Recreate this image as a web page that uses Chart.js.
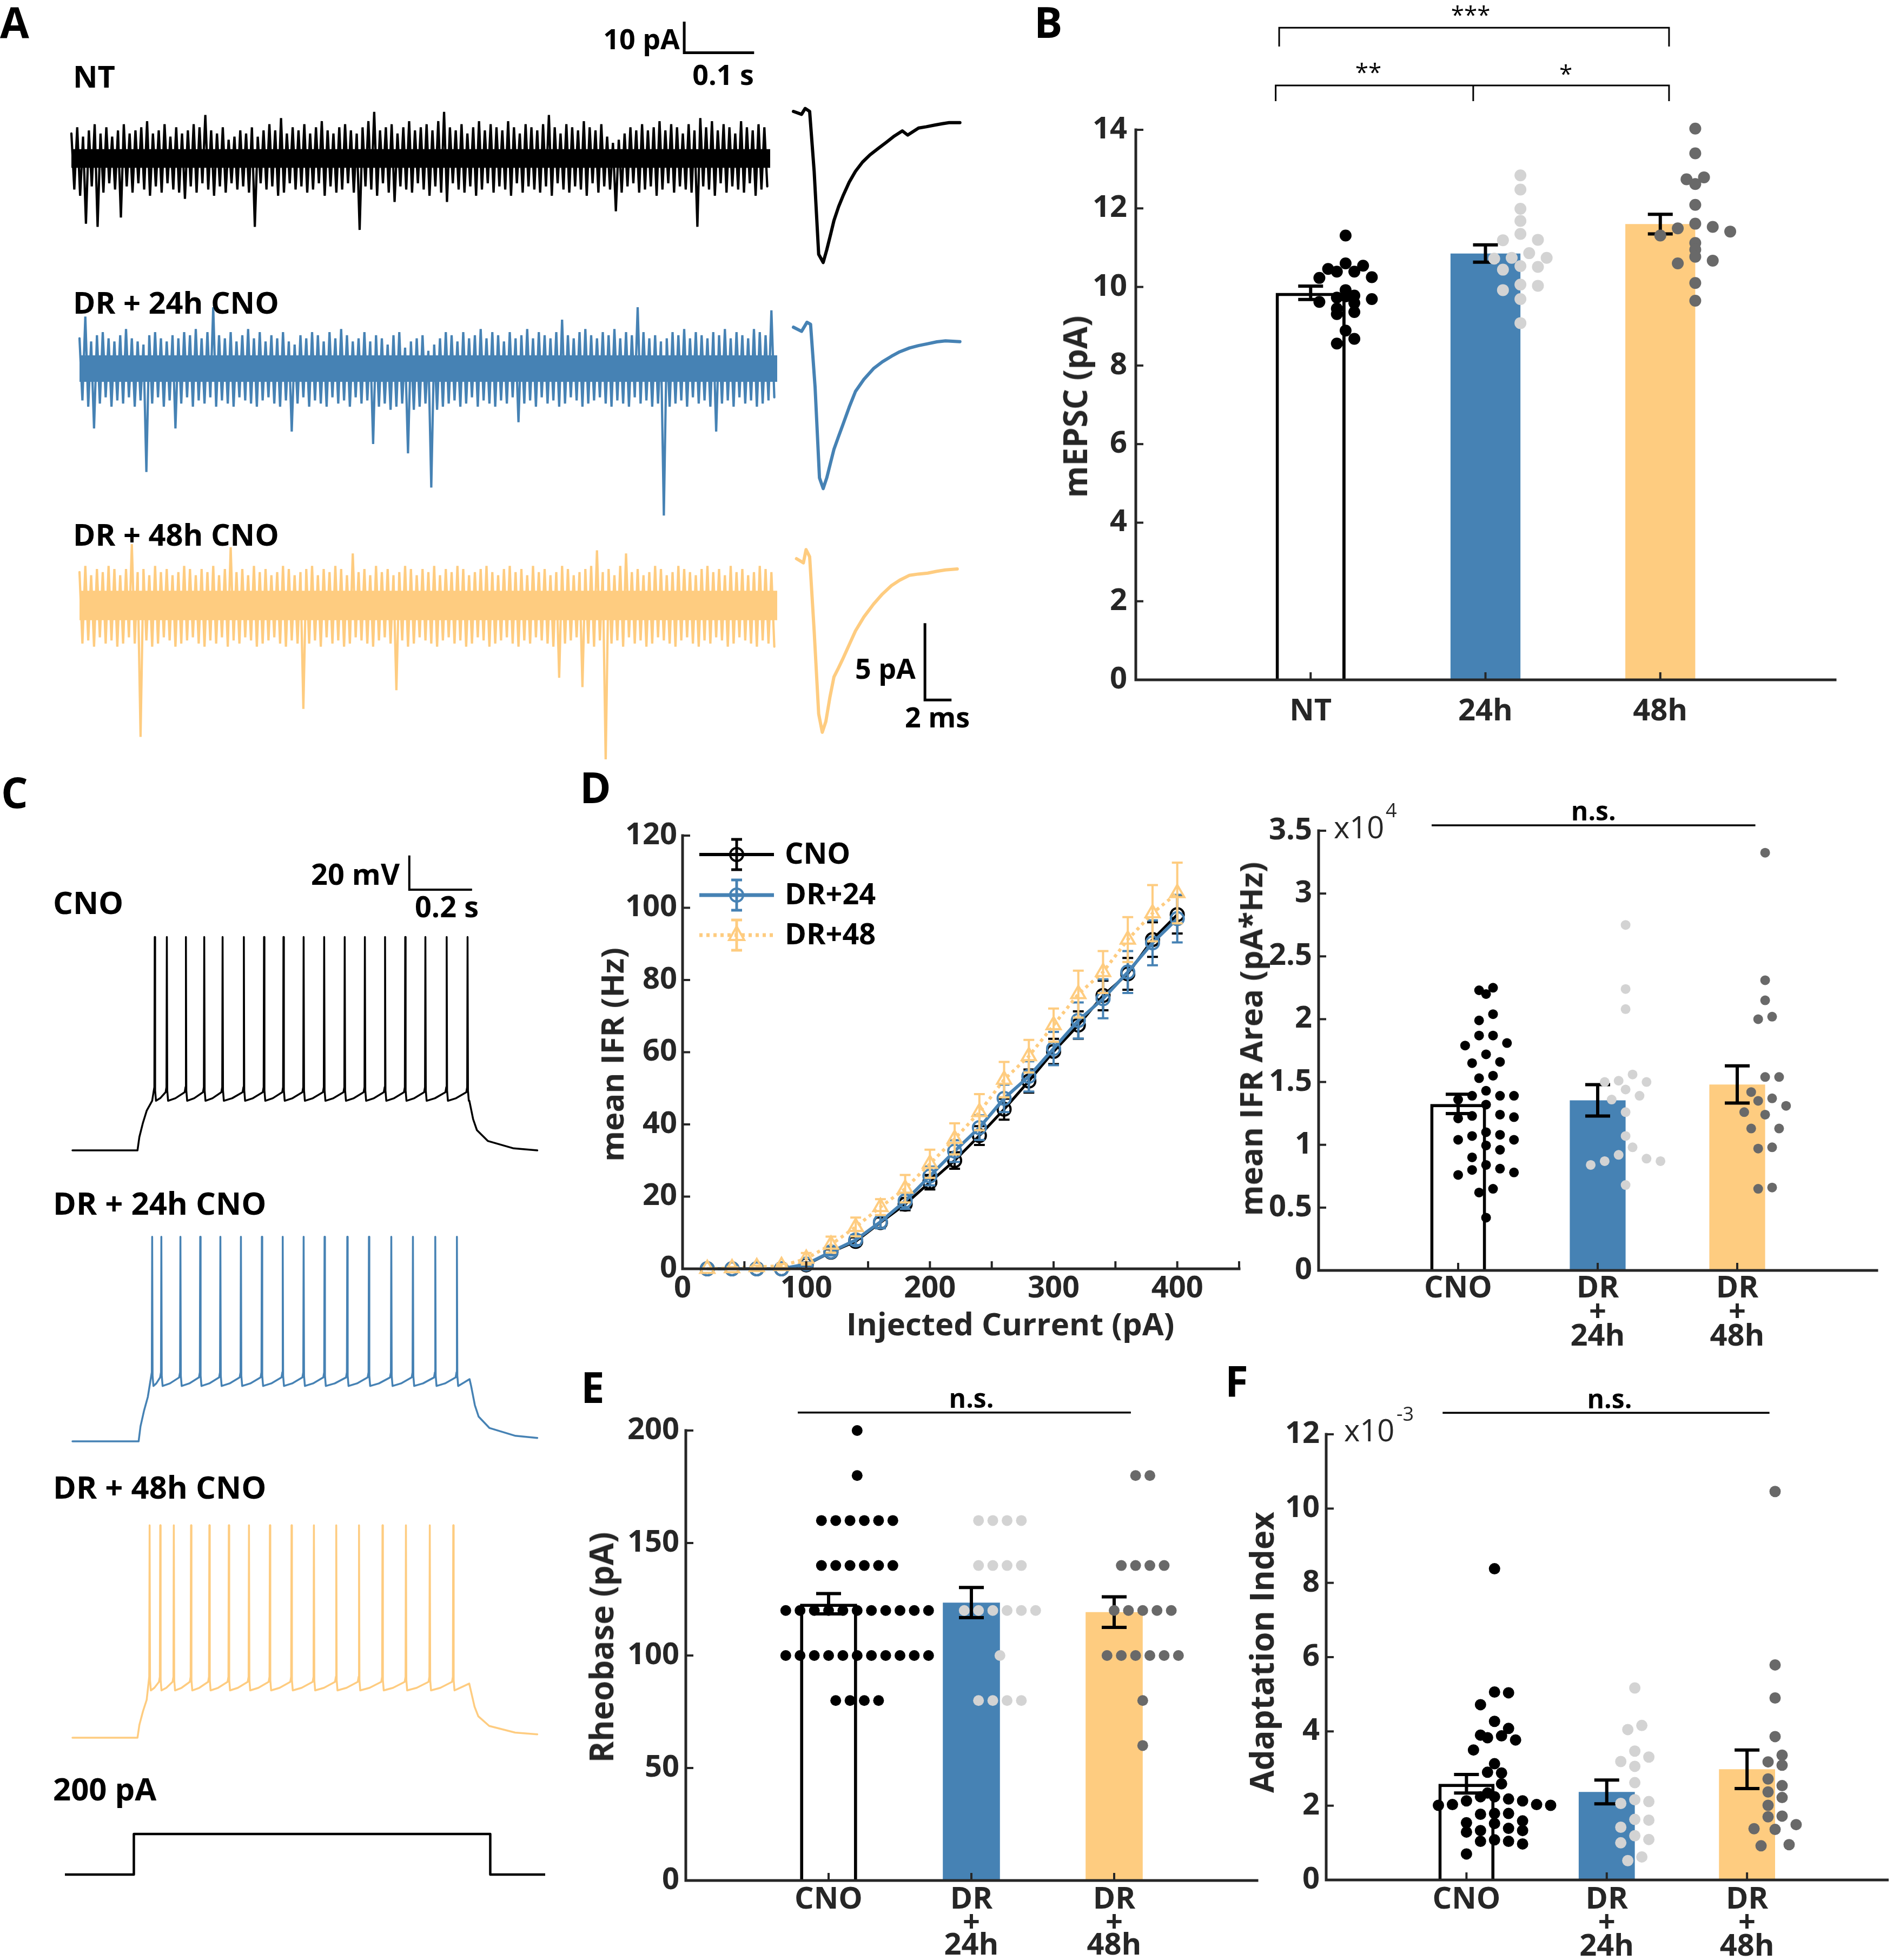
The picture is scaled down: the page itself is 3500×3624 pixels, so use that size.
<!DOCTYPE html>
<html>
<head>
<meta charset="utf-8">
<script src="https://cdn.jsdelivr.net/npm/chart.js@4.4.1/dist/chart.umd.min.js"></script>
<style>
  html, body { margin: 0; padding: 0; background: #fff; }
  #page { position: relative; width: 3500px; height: 3624px; overflow: hidden; background: #fff; }
  canvas { position: absolute; }
</style>
</head>
<body>
<div id="page"></div>
<script>
// ---- colours / fonts
const BLACK = '#000000', BLUE = '#4682B4', ORANGE = '#FECC80', LIGHT = '#D3D3D3', DARK = '#696969', AXIS = '#262626';
const FONT = "'Open Sans', sans-serif";

// ---- A: mEPSC traces (pA). dense core of the noise band, plus the envelope of the hairs, 120 bins over ~1 s
const ntCore = [-3, 3];
const dr24Core = [-4, 4.5];
const dr48Core = [-4.5, 5];
const ntTop = [8,10,7,9,11,8,10,7,9,11, 8,9,10,12,8,9,11,7,10,8, 9,11,10,14,9,8,10,6,7,9, 8,10,7,9,11,9,13,8,10,9,
  11,8,10,12,9,8,10,11,9,8, 10,12,15,9,10,11,8,10,12,9, 10,11,9,12,15,10,9,11,8,10, 12,9,11,10,9,12,10,8,11,10,
  9,11,14,10,8,11,10,9,12,10, 9,11,7,5,6,8,10,9,11,9, 10,12,9,11,10,8,11,9,13,10, 12,9,11,10,8,12,10,9,11,10];
const ntBot = [-10,-12,-21,-9,-22,-11,-8,-10,-19,-9, -11,-8,-10,-12,-9,-11,-8,-10,-11,-13, -9,-11,-8,-10,-12,-9,-11,-8,-10,-9,
  -11,-22,-8,-10,-9,-12,-11,-8,-10,-9, -11,-10,-8,-12,-9,-11,-10,-8,-11,-23, -9,-10,-12,-8,-11,-14,-9,-10,-11,-8,
  -10,-12,-9,-11,-14,-8,-10,-11,-9,-12, -10,-8,-11,-9,-10,-12,-8,-11,-9,-10, -11,-9,-12,-8,-10,-11,-9,-10,-12,-8,
  -11,-9,-10,-17,-11,-9,-8,-11,-10,-9, -12,-10,-8,-11,-9,-10,-11,-22,-9,-10, -12,-8,-11,-9,-10,-11,-8,-12,-10,-9];
const dr24Top = [10,17,9,11,12,10,9,11,13,10, 9,8,11,12,10,9,11,10,12,11, 13,10,12,20,11,10,12,9,11,13, 10,12,9,11,10,12,9,8,11,10,
  12,11,9,12,10,13,11,9,10,12, 9,11,10,8,11,12,7,9,10,11, 6,8,10,12,11,9,12,10,11,13, 10,12,11,9,12,10,11,13,10,12,
  11,10,12,16,11,10,12,13,11,10, 12,11,13,10,12,11,20,12,10,11, 9,10,12,11,13,10,12,11,10,12, 11,13,10,12,11,10,13,12,11,19];
const dr24Bot = [-10,-12,-19,-11,-9,-12,-10,-11,-9,-12, -10,-33,-11,-9,-12,-10,-19,-11,-9,-12, -10,-11,-9,-12,-10,-11,-12,-9,-10,-11,
  -12,-10,-9,-11,-12,-10,-20,-11,-9,-12, -10,-11,-12,-9,-11,-10,-12,-9,-11,-10, -24,-12,-11,-13,-12,-11,-27,-13,-12,-11,
  -38,-13,-12,-11,-10,-12,-11,-9,-12,-10, -11,-12,-10,-11,-9,-17,-11,-10,-12,-9, -11,-10,-12,-11,-9,-10,-12,-11,-10,-9,
  -11,-12,-10,-11,-12,-9,-11,-10,-12,-11, -47,-12,-11,-10,-12,-9,-11,-10,-12,-20, -11,-10,-12,-9,-11,-10,-12,-11,-10,-9];
const dr48Top = [11,13,10,12,11,13,12,10,12,20, 11,12,10,13,11,12,10,11,13,12, 10,12,11,13,10,12,19,11,12,10, 13,11,12,10,11,13,12,10,11,12,
  13,10,12,11,13,12,10,17,11,12, 10,13,11,12,10,11,13,12,10,12, 11,13,10,12,11,13,12,10,11,12, 13,11,10,12,13,11,12,10,13,11,
  12,10,11,13,12,10,11,12,13,18, 11,12,10,13,17,11,12,10,11,13, 12,10,11,13,12,11,10,12,13,11, 12,10,13,11,12,10,11,13,12,11];
const dr48Bot = [-12,-11,-13,-10,-12,-11,-13,-12,-10,-12, -42,-11,-13,-12,-10,-11,-13,-12,-11,-10, -12,-13,-11,-12,-10,-13,-11,-12,-10,-11,
  -13,-12,-11,-10,-12,-13,-11,-12,-33,-12, -11,-13,-10,-12,-11,-13,-12,-10,-11,-12, -13,-11,-10,-12,-27,-11,-13,-12,-10,-11,
  -12,-13,-11,-10,-12,-11,-13,-12,-10,-11, -13,-12,-11,-10,-12,-13,-11,-12,-10,-11, -12,-13,-23,-12,-11,-10,-26,-12,-13,-11,
  -50,-12,-11,-13,-10,-12,-11,-13,-12,-10, -11,-12,-13,-11,-10,-12,-13,-11,-12,-10, -11,-13,-12,-10,-11,-12,-13,-11,-12,-13];

// ---- A: averaged mEPSC (ms, pA)
const ntMiniT = [0,0.61,0.88,1.22,1.56,1.90,2.24,2.51,2.8,3.05,3.4,3.73,4.2,4.67,5.2,5.76,6.4,6.98,7.6,8.2,8.6,9.42,10.0,10.64,11.2,11.72,12.53];
const ntMiniV = [0,-0.19,0.19,0,-3.9,-9.3,-9.83,-9.0,-8.0,-7.1,-6.2,-5.5,-4.6,-3.9,-3.3,-2.83,-2.4,-2.02,-1.6,-1.27,-1.54,-1.08,-1.0,-0.89,-0.8,-0.73,-0.73];
const dr24MiniT = [0,0.61,1.02,1.29,1.63,1.96,2.24,2.51,2.8,3.05,3.4,3.73,4.2,4.67,5.3,6.03,6.7,7.38,8.0,8.74,9.4,10.1,10.8,11.45,12.53];
const dr24MiniV = [0,-0.27,0.32,0.19,-3.9,-9.8,-10.5,-9.8,-8.8,-7.95,-7.1,-6.33,-5.2,-4.18,-3.4,-2.69,-2.25,-1.89,-1.6,-1.35,-1.2,-1.08,-0.95,-0.89,-0.94];
const dr48MiniT = [0.23,0.75,0.95,1.22,1.56,1.90,2.17,2.44,2.75,3.05,3.4,3.73,4.2,4.67,5.3,6.03,6.7,7.38,8.0,8.74,9.4,10.1,10.8,11.45,12.33];
const dr48MiniV = [0,-0.27,0.59,0.13,-4.7,-10.1,-11.3,-10.6,-9.0,-7.7,-7.1,-6.5,-5.6,-4.7,-3.8,-2.96,-2.3,-1.75,-1.4,-1.08,-1.0,-0.94,-0.82,-0.73,-0.67];

// ---- B: mEPSC amplitude
const bCats = ['NT', '24h', '48h'];
const bMeans = [9.85, 10.85, 11.6];
const bSems = [0.17, 0.22, 0.25];
const bNtVals = [11.31,10.60,10.46,10.39,10.39,10.54,10.23,10.25,9.92,9.73,9.62,9.78,9.69,9.59,9.76,9.45,9.36,9.31,8.89,8.56,8.68];
const bNtJit = [0,0,-2,-1,1,2,-3,3,0,-1,-3,1,3,1,0,-1,1,-1,0,-1,1];
const b24Vals = [12.84,12.48,11.99,11.68,11.35,11.19,11.20,10.86,10.74,10.72,10.74,10.53,10.44,10.51,10.06,10.03,9.92,9.69,9.08];
const b24Jit = [0,0,0,0,0,-2,2,1,3,-3,-1,0,-2,2,0,2,-2,0,0];
const b48Vals = [14.03,13.40,12.74,12.79,12.62,12.09,11.61,11.49,11.53,11.41,11.31,11.12,10.95,10.77,10.60,10.67,10.10,9.65];
const b48Jit = [0,0,-1,1,0,0,0,-2,2,4,-4,0,0,0,-2,2,0,0];

// ---- C: firing (ms, mV above rest)
const cnoSpikes = [263.5,302.3,363.4,422.1,480.9,549,613.6,675.9,740.5,806.3,872.1,936.7,1001.3,1065.9,1130.5,1198.7,1265.6];
const dr24Spikes = [255.3,284.7,345.8,409.2,473.8,539.6,606.6,673.5,740.5,807.5,880.3,949.6,1021.3,1090.6,1162.2,1231.5];
const dr48Spikes = [247.1,281.1,324.6,379.8,438.5,500.8,565.4,632.4,701.7,773.4,845.0,917.9,993.1,1068.2,1144.6,1219.8];
const apPeak = [124.8, 119.7, 124.3];
const apTrough = [29, 32.4, 27.7];
const stepOn = [208.3, 211.9, 208.3];
const stepOff = [1271.4, 1277, 1276];
const restEnd = [0, 2, 2];
const chargeT = [0, 6, 17.6, 29.4, 47];
const chargeF = [0, 0.27, 0.56, 0.8, 1.0];
const decayT = [0, 12, 24, 59, 142];
const decayF = [1, 0.63, 0.41, 0.19, 0.04];
const currentT = [-30, 196.6, 196.6, 1338.3, 1338.3, 1565];
const currentV = [0, 0, 200, 200, 0, 0];

// ---- D: f-I curve
const dCurrents = [20,40,60,80,100,120,140,160,180,200,220,240,260,280,300,320,340,360,380,400];
const dCno = [0,0,0,0,1.1,4.6,7.6,12.8,17.9,24.0,30.0,36.9,44.2,52.0,60.2,67.5,75.7,81.7,91.2,98.1];
const dCnoErr = [0,0,0,0,0.4,0.8,1.1,1.4,1.7,2.0,2.3,2.6,2.9,3.2,3.5,3.8,4.1,4.4,4.8,5.2];
const d24 = [0,0,0,0,1.3,4.7,8.0,13.0,18.8,25.7,32.6,39.1,47.2,53.3,61.0,68.8,74.8,82.2,90.3,97.0];
const d24Err = [0,0,0,0,0.5,1.0,1.4,1.8,2.2,2.6,3.0,3.4,3.8,4.2,4.6,5.0,5.4,5.8,6.2,6.6];
const d48 = [0,0.2,0.5,0.8,2.8,6.7,11.6,17.1,22.2,29.1,36.0,43.4,52.4,58.9,67.5,76.1,82.2,91.2,98.5,104.1];
const d48Err = [0,0.3,0.4,0.5,1.6,2.2,2.6,2.2,3.8,3.9,4.3,5.0,4.9,4.5,4.6,6.5,5.8,6.2,7.8,8.4];

// ---- D right: IFR area (x10^4 pA*Hz)
const grpCats = ['CNO', ['DR', '+', '24h'], ['DR', '+', '48h']];
const drMeans = [1.325, 1.354, 1.48];
const drSems = [0.077, 0.125, 0.148];
const drCnoVals = [2.23,2.20,2.25,2.04,1.99,1.87,1.87,1.79,1.81,1.72,1.65,1.66,1.53,1.55,1.43,1.39,1.39,1.39,1.32,1.36,
  1.21,1.23,1.24,1.22,1.04,1.07,1.10,1.08,1.04,0.995,0.96,0.90,0.84,0.76,0.80,0.81,0.78,0.62,0.65,0.42];
const drCnoJit = [-1,0,1,1,-1,-1,1,-3,3,0,-2,2,-1,1,0,-2,2,4,0,-4,-4,-2,2,4,-4,-2,0,2,4,0,2,-2,0,-4,-2,2,4,-1,1,0];
const dr24Vals = [2.75,2.24,2.08,1.56,1.50,1.51,1.50,1.44,1.39,1.36,1.26,1.07,0.98,0.92,0.84,0.87,0.89,0.87,0.68];
const dr24Jit = [0,0,0,1,-3,-1,3,0,2,-2,0,0,1,-1,-5,-3,3,5,0];
const dr48Vals = [3.325,2.31,2.15,2.00,2.02,1.54,1.54,1.42,1.35,1.37,1.31,1.26,1.24,1.13,1.13,0.97,0.98,0.65,0.66];
const dr48Jit = [0,0,0,-1,1,0,2,-2,-1,1,3,-3,0,-2,2,-1,1,-1,1];

// ---- E: rheobase (pA)
const eMeans = [123, 123.5, 119.3];
const eSems = [4.5, 6.7, 6.8];
const eCnoVals = [200,180,160,160,160,160,160,160,140,140,140,140,140,140,
  120,120,120,120,120,120,120,120,120,120,120,100,100,100,100,100,100,100,100,100,100,100,80,80,80,80];
const eCnoJit = [0,0,-2.5,-1.5,-0.5,0.5,1.5,2.5,-2.5,-1.5,-0.5,0.5,1.5,2.5,
  -5,-4,-3,-2,-1,0,1,2,3,4,5,-5,-4,-3,-2,-1,0,1,2,3,4,5,-1.5,-0.5,0.5,1.5];
const e24Vals = [160,160,160,160,140,140,140,140,120,120,120,120,120,120,100,80,80,80,80];
const e24Jit = [-1.5,-0.5,0.5,1.5,-1.5,-0.5,0.5,1.5,-2.5,-1.5,-0.5,0.5,1.5,2.5,0,-1.5,-0.5,0.5,1.5];
const e48Vals = [180,180,140,140,140,140,120,120,120,120,120,100,100,100,100,100,100,80,60];
const e48Jit = [-0.5,0.5,-1.5,-0.5,0.5,1.5,-2,-1,0,1,2,-2.5,-1.5,-0.5,0.5,1.5,2.5,0,0];

// ---- F: adaptation index (x10^-3)
const fMeans = [2.59, 2.37, 2.98];
const fSems = [0.25, 0.32, 0.52];
const fCnoVals = [8.38,5.06,5.04,4.72,4.27,4.08,3.9,3.83,3.88,3.77,3.5,3.13,2.9,2.88,2.59,2.34,2.24,2.24,2.18,2.13,2.13,
  2.01,2.03,2.03,2.01,1.77,1.79,1.79,1.54,1.52,1.59,1.39,1.29,1.33,1.33,1.04,1.08,1.04,0.97,0.7];
const fCnoJit = [0,0,1,-1,0,1,-1,-0.5,0.5,1.5,-1.5,0,-0.5,0.5,0.5,-0.5,0,-1,1,2,-2,
  -4,-3,3,4,-1,0,1,-2,0,2,1,-2,-1,2,-1,0,1,2,-2];
const f24Vals = [5.17,4.16,4.05,3.47,3.31,3.19,3.06,2.62,2.16,2.06,2.11,1.63,1.61,1.42,1.19,1.09,1.0,0.52,0.62];
const f24Jit = [0,0.5,-0.5,0,1,-1,0,0,0,-1,1,0,1,-1,0,1,-1,-0.5,0.5];
const f48Vals = [10.46,5.79,4.9,3.86,3.36,3.18,3.09,2.72,2.54,2.37,2.22,2.01,1.7,1.72,1.38,1.36,1.49,0.92,0.95];
const f48Jit = [0,0,0,0,0.5,-0.5,0.5,-0.5,0.5,-0.5,0.5,-0.5,-0.5,0.5,-1.5,0,1.5,-1,1];

// ------------------------------------------------------------------
const page = document.getElementById('page');
Chart.defaults.font.family = FONT;
Chart.defaults.color = AXIS;

function addCanvas(l, t, w, h) {
  const c = document.createElement('canvas');
  c.width = w; c.height = h;
  c.style.left = l + 'px'; c.style.top = t + 'px';
  c.style.width = w + 'px'; c.style.height = h + 'px';
  page.appendChild(c);
  return c;
}

function txt(s, x, y, o) {
  const d = document.createElement('div');
  d.textContent = s;
  d.style.cssText = `position:absolute;white-space:nowrap;line-height:1;font-family:${FONT};` +
    `font-size:${o.size}px;font-weight:${o.weight || 700};color:${o.color || '#000'};left:${x}px;top:${y}px;`;
  let tr = 'translateY(-50%)';
  if (o.rot) tr = 'translate(-50%,-50%) rotate(-90deg)';
  else if (o.align === 'center') tr = 'translate(-50%,-50%)';
  else if (o.align === 'right') tr = 'translate(-100%,-50%)';
  d.style.transform = tr;
  page.appendChild(d);
}

const baseOpts = () => ({
  responsive: false, animation: false, devicePixelRatio: 1, events: [],
  plugins: { legend: { display: false }, tooltip: { enabled: false } }
});

// inward ticks + L-shaped axes, MATLAB style
const axesPlugin = {
  id: 'axesPlugin',
  afterDraw(chart) {
    const { ctx, chartArea: a } = chart;
    const sx = chart.scales.x, sy = chart.scales.y;
    ctx.save();
    ctx.strokeStyle = AXIS; ctx.lineWidth = 5; ctx.lineCap = 'square';
    ctx.beginPath(); ctx.moveTo(a.left, a.top); ctx.lineTo(a.left, a.bottom); ctx.lineTo(a.right, a.bottom); ctx.stroke();
    ctx.lineCap = 'butt'; ctx.lineWidth = 4;
    sy.ticks.forEach(t => { const p = sy.getPixelForValue(t.value); ctx.beginPath(); ctx.moveTo(a.left, p); ctx.lineTo(a.left + 14, p); ctx.stroke(); });
    sx.ticks.forEach(t => { const p = sx.getPixelForValue(t.value); ctx.beginPath(); ctx.moveTo(p, a.bottom); ctx.lineTo(p, a.bottom - 14); ctx.stroke(); });
    ctx.restore();
  }
};

// error bars from dataset.errors, drawn right after their dataset
const errPlugin = {
  id: 'errPlugin',
  afterDatasetDraw(chart, args) {
    const ds = chart.data.datasets[args.index];
    if (!ds.errors) return;
    const { ctx } = chart; const sx = chart.scales.x, sy = chart.scales.y;
    ctx.save();
    ctx.strokeStyle = ds.errColor; ctx.lineWidth = ds.errWidth; ctx.lineCap = 'butt';
    ds.data.forEach((pt, i) => {
      const e = ds.errors[i];
      if (!e) return;
      const px = sx.getPixelForValue(pt.x), p1 = sy.getPixelForValue(pt.y + e), p2 = sy.getPixelForValue(pt.y - e);
      const c = ds.capHalf;
      ctx.beginPath();
      ctx.moveTo(px, p1); ctx.lineTo(px, p2);
      ctx.moveTo(px - c, p1); ctx.lineTo(px + c, p1);
      ctx.moveTo(px - c, p2); ctx.lineTo(px + c, p2);
      ctx.stroke();
    });
    ctx.restore();
  }
};

// brackets, n.s. lines, scale bars (data units)
function notes(id, lines, texts) {
  return {
    id,
    afterDraw(chart) {
      const { ctx } = chart; const sx = chart.scales.x, sy = chart.scales.y;
      ctx.save();
      lines.forEach(l => {
        ctx.strokeStyle = l.color || '#000'; ctx.lineWidth = l.w; ctx.lineCap = 'butt'; ctx.lineJoin = 'miter';
        ctx.beginPath();
        l.pts.forEach((p, i) => {
          const X = sx.getPixelForValue(p[0]), Y = sy.getPixelForValue(p[1]);
          if (i) ctx.lineTo(X, Y); else ctx.moveTo(X, Y);
        });
        ctx.stroke();
      });
      texts.forEach(t => {
        ctx.fillStyle = '#000'; ctx.font = `${t.weight || 400} ${t.size}px ${FONT}`;
        ctx.textAlign = 'center'; ctx.textBaseline = 'middle';
        ctx.fillText(t.s, sx.getPixelForValue(t.x), sy.getPixelForValue(t.y));
      });
      ctx.restore();
    }
  };
}

function tickFont(lh) { return { size: 56, weight: '700', lineHeight: lh }; }
const plainNum = v => String(+Number(v).toFixed(3));

function barPanel(p) {
  const b = p.box, a = p.area;
  const c = addCanvas(b.l, b.t, b.w, b.h);
  const ds = [{
    type: 'bar', order: 2,
    data: p.means.map((m, i) => ({ x: i + 1, y: m })),
    errors: p.sems, errColor: BLACK, errWidth: 6, capHalf: 23,
    backgroundColor: ['#ffffff', BLUE, ORANGE],
    borderColor: [BLACK, BLUE, ORANGE],
    borderWidth: [6, 0, 0],
    barPercentage: 0.4, categoryPercentage: 1
  }];
  const ptColors = [BLACK, LIGHT, DARK];
  p.groups.forEach((g, gi) => {
    ds.push({
      type: 'scatter', order: 1, clip: false,
      pointRadius: p.r, pointHoverRadius: p.r, pointBorderWidth: 0,
      pointBackgroundColor: ptColors[gi], pointBorderColor: ptColors[gi],
      data: g.vals.map((v, k) => ({ x: gi + 1.2 + g.jit[k] * p.step, y: v }))
    });
  });
  const opts = baseOpts();
  opts.layout = { padding: { left: 0, top: a.t - b.t, right: b.l + b.w - a.r, bottom: 0 } };
  opts.scales = {
    x: {
      type: 'linear', min: 0, max: 4, offset: false,
      grid: { display: false, drawTicks: false }, border: { display: false },
      afterBuildTicks: s => { s.ticks = [1, 2, 3].map(v => ({ value: v })); },
      afterFit: s => { s.height = b.t + b.h - a.b; },
      ticks: { autoSkip: false, maxRotation: 0, padding: p.xPad, color: AXIS, font: tickFont(p.lh),
        callback: v => p.cats[v - 1] }
    },
    y: {
      min: p.yMin, max: p.yMax,
      grid: { display: false, drawTicks: false }, border: { display: false },
      afterFit: s => { s.width = a.l - b.l; },
      ticks: { stepSize: p.yStep, padding: p.yPad, color: AXIS, font: tickFont(1.2), callback: plainNum }
    }
  };
  return new Chart(c, {
    type: 'bar', data: { datasets: ds }, options: opts,
    plugins: [errPlugin, axesPlugin, notes(p.id, p.lines, p.texts)]
  });
}

function traceChart(area, xr, yr, datasets, extra) {
  const m = 14;
  const c = addCanvas(area.l - m, area.t - m, area.r - area.l + 2 * m, area.b - area.t + 2 * m);
  const opts = baseOpts();
  opts.layout = { padding: m };
  opts.scales = {
    x: { type: 'linear', display: false, min: xr[0], max: xr[1] },
    y: { type: 'linear', display: false, min: yr[0], max: yr[1] }
  };
  return new Chart(c, { type: 'line', data: { datasets }, options: opts, plugins: extra || [] });
}

function lineDs(pts, color, w, join) {
  return { data: pts, borderColor: color, borderWidth: w, pointRadius: 0, tension: 0,
    clip: false, borderJoinStyle: join || 'round', borderCapStyle: 'round' };
}

// solid core of a noise band
function coreDs(core, color) {
  return { data: [{ x: 0, y: core[1] }, { x: 1, y: core[1] }], borderWidth: 0, pointRadius: 0,
    backgroundColor: color, fill: { value: core[0] }, clip: false };
}

function noisePts(top, bot) {
  const n = top.length, out = [];
  for (let i = 0; i < n; i++) {
    out.push({ x: i / n, y: top[i] });
    out.push({ x: (i + 0.5) / n, y: bot[i] });
  }
  return out;
}
const zipPts = (xs, ys) => xs.map((x, i) => ({ x, y: ys[i] }));

function apTrace(k, spikes) {
  const on = stepOn[k], off = stepOff[k], pk = apPeak[k], tr = apTrough[k], end = restEnd[k];
  const pts = [{ x: 0, y: 0 }];
  chargeT.forEach((dt, i) => { if (on + dt < spikes[0] - 3) pts.push({ x: on + dt, y: tr * chargeF[i] }); });
  spikes.forEach((ts, i) => {
    const nx = spikes[i + 1];
    pts.push({ x: ts - 1.2, y: tr + 8 });
    pts.push({ x: ts, y: pk });
    pts.push({ x: ts + 1.3, y: tr + 6 });
    pts.push({ x: ts + 4, y: tr });
    if (nx !== undefined) {
      pts.push({ x: ts + 0.45 * (nx - ts), y: tr + 1.5 });
      pts.push({ x: nx - 4, y: tr + 5 });
    } else if (off - ts > 20) {
      pts.push({ x: ts + 0.5 * (off - ts), y: tr + 2 });
      pts.push({ x: off - 5, y: tr + 4 });
    }
  });
  decayT.forEach((dt, i) => pts.push({ x: off + dt, y: end + (tr - end) * decayF[i] }));
  pts.push({ x: 1489, y: end });
  return pts;
}

// ================= Panel A =================
traceChart({ l: 132, r: 1424, t: 20, b: 440 }, [0, 1], [-25.6, 47.5],
  [coreDs(ntCore, BLACK), lineDs(noisePts(ntTop, ntBot), BLACK, 4.2, 'bevel')],
  [notes('sbA', [{ w: 5, pts: [[0.877, 44], [0.877, 34], [0.977, 34]] }], [])]);
traceChart({ l: 147, r: 1437, t: 560, b: 980 }, [0, 1], [-51.65, 21.39],
  [coreDs(dr24Core, BLUE), lineDs(noisePts(dr24Top, dr24Bot), BLUE, 4.2, 'bevel')]);
traceChart({ l: 147, r: 1437, t: 1000, b: 1390 }, [0, 1], [-46.78, 21.04],
  [coreDs(dr48Core, ORANGE), lineDs(noisePts(dr48Top, dr48Bot), ORANGE, 4.2, 'bevel')]);
traceChart({ l: 1467, r: 1774, t: 180, b: 510 }, [0, 12.5], [-10.7, 0.915],
  [lineDs(zipPts(ntMiniT, ntMiniV), BLACK, 6)]);
traceChart({ l: 1467, r: 1774, t: 580, b: 930 }, [0, 12.5], [-11.44, 0.88],
  [lineDs(zipPts(dr24MiniT, dr24MiniV), BLUE, 6)]);
traceChart({ l: 1467, r: 1774, t: 1000, b: 1390 }, [0, 12.5], [-12.57, 1.162],
  [lineDs(zipPts(dr48MiniT, dr48MiniV), ORANGE, 6)],
  [notes('sbMini', [{ w: 5, pts: [[9.9, -4.2], [9.9, -9.2], [11.9, -9.2]] }], [])]);

txt('A', 0, 40, { size: 78 });
txt('NT', 135, 140, { size: 56 });
txt('DR + 24h CNO', 135, 558, { size: 56 });
txt('DR + 48h CNO', 135, 987, { size: 56 });
txt('10 pA', 1257, 71, { size: 52, align: 'right' });
txt('0.1 s', 1337, 137, { size: 52, align: 'center' });
txt('5 pA', 1693, 1235, { size: 52, align: 'right' });
txt('2 ms', 1733, 1325, { size: 52, align: 'center' });

// ================= Panel B =================
barPanel({
  id: 'nB', box: { l: 1880, t: 0, w: 1560, h: 1400 }, area: { l: 2100, t: 240, r: 3393, b: 1257 },
  cats: bCats, means: bMeans, sems: bSems, yMin: 0, yMax: 14, yStep: 2, yPad: 16, xPad: 37, lh: 0.78,
  r: 11, step: 0.05,
  groups: [{ vals: bNtVals, jit: bNtJit }, { vals: b24Vals, jit: b24Jit }, { vals: b48Vals, jit: b48Jit }],
  lines: [
    { w: 3, pts: [[0.82, 16.12], [0.82, 16.6], [3.05, 16.6], [3.05, 16.12]] },
    { w: 3, pts: [[0.80, 14.73], [0.80, 15.13], [3.05, 15.13], [3.05, 14.73]] },
    { w: 3, pts: [[1.93, 15.13], [1.93, 14.73]] }
  ],
  texts: [
    { s: '***', x: 1.915, y: 16.88, size: 44 },
    { s: '**', x: 1.33, y: 15.43, size: 44 },
    { s: '*', x: 2.46, y: 15.39, size: 44 }
  ]
});
txt('B', 1912, 40, { size: 78 });
txt('mEPSC (pA)', 1987, 752, { size: 60, rot: true, color: AXIS });

// ================= Panel C =================
const cX = [0, 1490];
traceChart({ l: 134, r: 994, t: 1560, b: 2160 }, cX, [-10.44, 179.4],
  [lineDs(apTrace(0, cnoSpikes), BLACK, 3.5)],
  [notes('sbC', [{ w: 4, pts: [[1079, 172.5], [1079, 152.5], [1280, 152.5]] }], [])]);
traceChart({ l: 134, r: 994, t: 2260, b: 2700 }, cX, [-11.08, 128.2],
  [lineDs(apTrace(1, dr24Spikes), BLUE, 3.5)]);
traceChart({ l: 134, r: 994, t: 2790, b: 3250 }, cX, [-11.7, 133.9],
  [lineDs(apTrace(2, dr48Spikes), ORANGE, 3.5)]);
traceChart({ l: 134, r: 994, t: 3360, b: 3490 }, cX, [-64, 282.7],
  [lineDs(zipPts(currentT, currentV), BLACK, 4.5)]);

txt('C', 2, 1464, { size: 78 });
txt('CNO', 98, 1668, { size: 58 });
txt('DR + 24h CNO', 98, 2224, { size: 58 });
txt('DR + 48h CNO', 98, 2749, { size: 58 });
txt('200 pA', 98, 3307, { size: 58 });
txt('20 mV', 739, 1615, { size: 54, align: 'right' });
txt('0.2 s', 826, 1675, { size: 54, align: 'center' });

// ================= Panel D (left) =================
(function () {
  const b = { l: 1060, t: 1440, w: 1250, h: 1080 }, a = { l: 1262, t: 1545, r: 2298, b: 2346 };
  const c = addCanvas(b.l, b.t, b.w, b.h);
  const series = [
    { label: 'CNO', vals: dCno, err: dCnoErr, color: BLACK, w: 5, dash: [], style: 'circle', r: 12, order: 3 },
    { label: 'DR+24', vals: d24, err: d24Err, color: BLUE, w: 6, dash: [], style: 'circle', r: 12, order: 2 },
    { label: 'DR+48', vals: d48, err: d48Err, color: ORANGE, w: 6, dash: [6, 7], style: 'triangle', r: 15, order: 1 }
  ];
  const ds = series.map(s => ({
    label: s.label, order: s.order, clip: false,
    data: zipPts(dCurrents, s.vals),
    errors: s.err, errColor: s.color, errWidth: 4, capHalf: 10,
    borderColor: s.color, borderWidth: s.w, borderDash: s.dash, tension: 0,
    pointStyle: s.style, pointRadius: s.r, pointHoverRadius: s.r, pointBorderWidth: 4,
    pointBorderColor: s.color, pointBackgroundColor: 'rgba(0,0,0,0)'
  }));
  const legendPlugin = {
    id: 'dLegend',
    afterDraw(chart) {
      const ctx = chart.ctx;
      const ys = [1580, 1655, 1729];
      ctx.save();
      series.forEach((s, i) => {
        const y = ys[i] - b.t, x1 = 1293 - b.l, x2 = 1431 - b.l, xm = 1362 - b.l;
        ctx.strokeStyle = s.color; ctx.lineWidth = s.w + 1; ctx.setLineDash(s.dash);
        ctx.beginPath(); ctx.moveTo(x1, y); ctx.lineTo(x2, y); ctx.stroke();
        ctx.setLineDash([]); ctx.lineWidth = 5;
        ctx.beginPath();
        ctx.moveTo(xm, y - 28); ctx.lineTo(xm, y + 28);
        ctx.moveTo(xm - 10, y - 28); ctx.lineTo(xm + 10, y - 28);
        ctx.moveTo(xm - 10, y + 28); ctx.lineTo(xm + 10, y + 28);
        ctx.stroke();
        ctx.lineWidth = 4;
        ctx.beginPath();
        if (s.style === 'circle') { ctx.arc(xm, y, 12, 0, Math.PI * 2); }
        else { ctx.moveTo(xm, y - 16); ctx.lineTo(xm + 14, y + 9); ctx.lineTo(xm - 14, y + 9); ctx.closePath(); }
        ctx.stroke();
        ctx.fillStyle = '#000'; ctx.font = `700 54px ${FONT}`;
        ctx.textAlign = 'left'; ctx.textBaseline = 'middle';
        ctx.fillText(s.label, 1451 - b.l, y + 2);
      });
      ctx.restore();
    }
  };
  const opts = baseOpts();
  opts.layout = { padding: { left: 0, top: a.t - b.t, right: b.l + b.w - a.r, bottom: 0 } };
  opts.scales = {
    x: {
      type: 'linear', min: 0, max: 450,
      grid: { display: false, drawTicks: false }, border: { display: false },
      afterFit: s => { s.height = b.t + b.h - a.b; },
      ticks: { stepSize: 50, autoSkip: false, maxRotation: 0, padding: 15, color: AXIS, font: tickFont(0.78),
        callback: v => (v % 100 === 0 && v <= 400) ? String(v) : '' }
    },
    y: {
      min: 0, max: 120,
      grid: { display: false, drawTicks: false }, border: { display: false },
      afterFit: s => { s.width = a.l - b.l; },
      ticks: { stepSize: 20, padding: 10, color: AXIS, font: tickFont(1.2) }
    }
  };
  new Chart(c, { type: 'line', data: { datasets: ds }, options: opts, plugins: [errPlugin, axesPlugin, legendPlugin] });
})();
txt('D', 1072, 1455, { size: 78 });
txt('mean IFR (Hz)', 1131, 1950, { size: 58, rot: true, color: AXIS });
txt('Injected Current (pA)', 1868, 2447, { size: 58, align: 'center', color: AXIS });

// ================= Panel D (right) =================
barPanel({
  id: 'nDr', box: { l: 2240, t: 1440, w: 1260, h: 1090 }, area: { l: 2438, t: 1536, r: 3470, b: 2349 },
  cats: grpCats, means: drMeans, sems: drSems, yMin: 0, yMax: 3.5, yStep: 0.5, yPad: 12, xPad: 12, lh: 0.79,
  r: 9, step: 0.05,
  groups: [{ vals: drCnoVals, jit: drCnoJit }, { vals: dr24Vals, jit: dr24Jit }, { vals: dr48Vals, jit: dr48Jit }],
  lines: [{ w: 3.5, pts: [[0.81, 3.543], [3.13, 3.543]] }],
  texts: [{ s: 'n.s.', x: 1.97, y: 3.64, size: 48, weight: 700 }]
});
txt('x10', 2466, 1528, { size: 56, weight: 400, color: AXIS });
txt('4', 2562, 1498, { size: 36, weight: 400, color: AXIS });
txt('mean IFR Area (pA*Hz)', 2312, 1921, { size: 58, rot: true, color: AXIS });

// ================= Panel E =================
barPanel({
  id: 'nE', box: { l: 1060, t: 2530, w: 1290, h: 1094 }, area: { l: 1268, t: 2645, r: 2324, b: 3477 },
  cats: grpCats, means: eMeans, sems: eSems, yMin: 0, yMax: 200, yStep: 50, yPad: 12, xPad: 15, lh: 0.76,
  r: 10, step: 0.1,
  groups: [{ vals: eCnoVals, jit: eCnoJit }, { vals: e24Vals, jit: e24Jit }, { vals: e48Vals, jit: e48Jit }],
  lines: [{ w: 3.5, pts: [[0.784, 208], [3.117, 208]] }],
  texts: [{ s: 'n.s.', x: 2.0, y: 213.5, size: 48, weight: 700 }]
});
txt('E', 1074, 2564, { size: 78 });
txt('Rheobase (pA)', 1111, 3046, { size: 60, rot: true, color: AXIS });

// ================= Panel F =================
barPanel({
  id: 'nF', box: { l: 2240, t: 2530, w: 1260, h: 1094 }, area: { l: 2452, t: 2652, r: 3494, b: 3476 },
  cats: grpCats, means: fMeans, sems: fSems, yMin: 0, yMax: 12, yStep: 2, yPad: 12, xPad: 15, lh: 0.78,
  r: 10.5, step: 0.1,
  groups: [{ vals: fCnoVals, jit: fCnoJit }, { vals: f24Vals, jit: f24Jit }, { vals: f48Vals, jit: f48Jit }],
  lines: [{ w: 3.5, pts: [[0.83, 12.58], [3.16, 12.58]] }],
  texts: [{ s: 'n.s.', x: 2.02, y: 12.9, size: 48, weight: 700 }]
});
txt('F', 2265, 2552, { size: 78 });
txt('x10', 2485, 2643, { size: 56, weight: 400, color: AXIS });
txt('-3', 2582, 2614, { size: 36, weight: 400, color: AXIS });
txt('Adaptation Index', 2332, 3055, { size: 60, rot: true, color: AXIS });
</script>
</body>
</html>
